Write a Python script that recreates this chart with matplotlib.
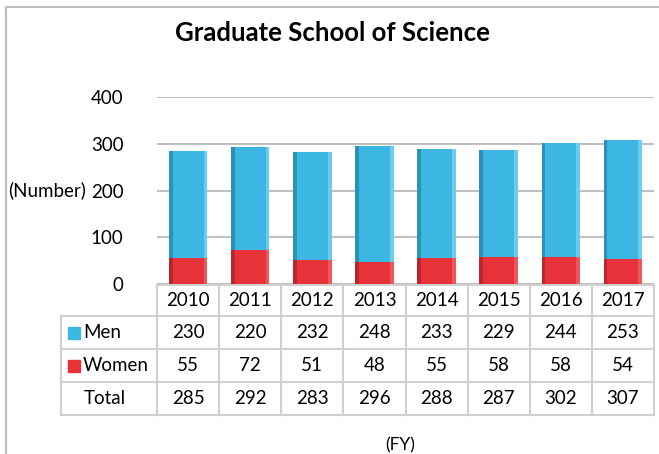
import matplotlib
matplotlib.use('Agg')
import matplotlib.pyplot as plt
import numpy as np

# Data
years = ['2010', '2011', '2012', '2013', '2014', '2015', '2016', '2017']
men = [230, 220, 232, 248, 233, 229, 244, 253]
women = [55, 72, 51, 48, 55, 58, 58, 54]
totals = [285, 292, 283, 296, 288, 287, 302, 307]
yticks = [0, 100, 200, 300, 400]

plt.rcParams['font.family'] = ['Lato', 'DejaVu Sans']

W, H = 659, 454
fig = plt.figure(figsize=(W / 100, H / 100), dpi=100)

# overlay in pixel coordinates for frame, table and labels
bg = fig.add_axes([0, 0, 1, 1])
bg.set_xlim(0, W)
bg.set_ylim(H, 0)
bg.axis('off')

grid_col = '#c0c0c0'
line_col = '#d0d0d0'
fs = 13.5

# chart frame (left and top)
bg.plot([6, 6], [7, H], color='#bdbdbd', lw=1.5)
bg.plot([6, W], [7, 7], color='#bdbdbd', lw=1.5)

bg.text(332, 33, 'Graduate School of Science', ha='center', va='center',
        fontsize=18.5, fontweight='bold', color='black')

# plot area
x0, x1 = 157, 654
y0, ytop = 284, 97
ax = fig.add_axes([x0 / W, 1 - y0 / H, (x1 - x0) / W, (y0 - ytop) / H])
ax.set_xlim(-0.5, len(years) - 0.5)
ax.set_ylim(0, 400)
ax.set_yticks(yticks)
ax.set_yticklabels([str(v) for v in yticks], fontsize=fs)
ax.tick_params(axis='y', length=0, pad=24)
ax.set_xticks([])
ax.yaxis.grid(True, color=grid_col, lw=1.5)
ax.set_axisbelow(True)
for s in ax.spines.values():
    s.set_visible(False)
ax.patch.set_alpha(0)

x = np.arange(len(years))
bw = 0.62
blue, blue_dk, blue_lt = '#3cb6e3', '#2a88ad', '#6fd0f0'
red, red_dk, red_lt = '#e8323a', '#b3222a', '#f25a60'

def bevel_bar(bottom, heights, face, dark, light):
    ax.bar(x, heights, bw, bottom=bottom, color=face, edgecolor='none', zorder=3)
    edge = 0.06
    ax.bar(x - bw / 2, heights, edge, bottom=bottom, align='edge', color=dark,
           edgecolor='none', zorder=4, alpha=0.8)
    ax.bar(x + bw / 2 - edge, heights, edge, bottom=bottom, align='edge', color=light,
           edgecolor='none', zorder=4, alpha=0.9)

bevel_bar(0, women, red, red_dk, red_lt)
bevel_bar(women, men, blue, blue_dk, blue_lt)

bg.text(8, 190, '(Number)', ha='left', va='center', fontsize=fs)

# data table under the plot
col_w = (x1 - x0) / len(years)
row_edges = [285, 316, 349, 382, 415]
lab_x = 61
lw = 1.5
# horizontal lines
bg.plot([x0, x1], [row_edges[0], row_edges[0]], color=line_col, lw=lw)
for yy in row_edges[1:]:
    bg.plot([lab_x, x1], [yy, yy], color=line_col, lw=lw)
# vertical lines
for i in range(len(years) + 1):
    xx = x0 + i * col_w
    bg.plot([xx, xx], [row_edges[0], row_edges[-1]], color=line_col, lw=lw)
bg.plot([lab_x, lab_x], [row_edges[1], row_edges[-1]], color=line_col, lw=lw)

rows = [men, women, totals]
for i, yr in enumerate(years):
    cx = x0 + (i + 0.5) * col_w
    bg.text(cx, (row_edges[0] + row_edges[1]) / 2, yr, ha='center', va='center', fontsize=fs)
    for r, vals in enumerate(rows):
        cy = (row_edges[r + 1] + row_edges[r + 2]) / 2
        bg.text(cx, cy, str(vals[i]), ha='center', va='center', fontsize=fs)

# row labels with legend keys
for r, (name, col) in enumerate([('Men', blue), ('Women', red)]):
    cy = (row_edges[r + 1] + row_edges[r + 2]) / 2
    bg.add_patch(plt.Rectangle((68, cy - 6), 12, 12, color=col))
    bg.text(83, cy, name, ha='left', va='center', fontsize=fs)
bg.text(105, (row_edges[3] + row_edges[4]) / 2, 'Total', ha='center', va='center', fontsize=fs)

bg.text(400, 445, '(FY)', ha='center', va='center', fontsize=12.5)

fig.savefig('out.png', dpi=100)
